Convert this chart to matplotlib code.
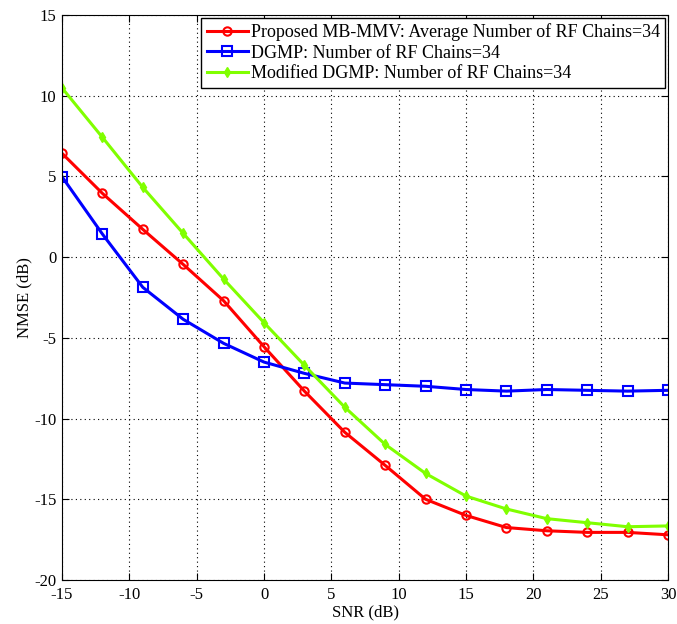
import matplotlib
matplotlib.use("Agg")
import matplotlib.pyplot as plt

plt.rcParams['font.family'] = ['Liberation Serif', 'DejaVu Serif']
plt.rcParams['axes.unicode_minus'] = False

snr = [-15, -12, -9, -6, -3, 0, 3, 6, 9, 12, 15, 18, 21, 24, 27, 30]
nmse_mbmmv = [6.43, 3.95, 1.72, -0.45, -2.7, -5.55, -8.3, -10.85, -12.9, -15.0, -16.0, -16.75, -16.95, -17.05, -17.05, -17.2]
nmse_dgmp = [4.98, 1.43, -1.87, -3.85, -5.34, -6.5, -7.2, -7.8, -7.9, -8.0, -8.2, -8.3, -8.2, -8.25, -8.3, -8.25]
nmse_mod_dgmp = [10.48, 7.42, 4.32, 1.47, -1.36, -4.06, -6.7, -9.3, -11.6, -13.4, -14.8, -15.6, -16.2, -16.45, -16.7, -16.65]

labels = ['Proposed MB-MMV: Average Number of RF Chains=34',
          'DGMP: Number of RF Chains=34',
          'Modified DGMP: Number of RF Chains=34']

fig = plt.figure(figsize=(6.77, 6.24), dpi=100)
ax = fig.add_axes([0.0916, 0.0705, 0.8951, 0.9055])

ax.plot(snr, nmse_mbmmv, color='#ff0000', lw=2.2, marker='o', ms=6, mfc='none', mec='#ff0000', mew=1.5, label=labels[0])
ax.plot(snr, nmse_dgmp, color='#0000ff', lw=2.2, marker='s', ms=7, mfc='none', mec='#0000ff', mew=1.5, label=labels[1])
ax.plot(snr, nmse_mod_dgmp, color='#80ff00', lw=2.2, marker='d', ms=5, mfc='#80ff00', mec='#80ff00', label=labels[2])

ax.set_xlim(-15, 30)
ax.set_ylim(-20, 15)
ax.set_xticks(range(-15, 31, 5))
ax.set_yticks(range(-20, 16, 5))
ax.grid(True, color='black', linestyle=(0, (1, 3)), linewidth=0.8)
ax.tick_params(direction='in', labelsize=12, top=True, right=True, length=5)
ax.tick_params(axis='x', pad=5)
ax.tick_params(axis='y', pad=4)
ax.set_xlabel('SNR (dB)', fontsize=12, labelpad=1)
ax.set_ylabel('NMSE (dB)', fontsize=12, labelpad=1)

leg = ax.legend(loc='upper right', fontsize=13, fancybox=False, framealpha=1, edgecolor='black',
                borderaxespad=0.15, handlelength=2.3, handletextpad=0.15, labelspacing=0.2, borderpad=0.3)
leg.get_frame().set_linewidth(1.0)

fig.savefig('out.png', dpi=100)
